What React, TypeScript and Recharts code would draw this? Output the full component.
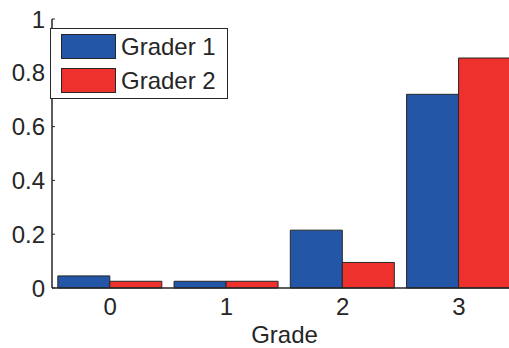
import React from 'react';
import { BarChart, Bar, XAxis, YAxis } from 'recharts';

const grades = ['0', '1', '2', '3'];
const grader1 = [0.045, 0.025, 0.215, 0.72];
const grader2 = [0.025, 0.025, 0.095, 0.855];
const yTicks = [0, 0.2, 0.4, 0.6, 0.8, 1];

const BLUE = '#2356a7';
const RED = '#ee312d';
const INK = '#262626';
const FONT = '"Liberation Sans", Arial, Helvetica, sans-serif';
const FS = 24;

const data = grades.map((g, i) => ({ grade: g, g1: grader1[i], g2: grader2[i] }));

const series = [
  { key: 'g1', name: 'Grader 1', color: BLUE },
  { key: 'g2', name: 'Grader 2', color: RED },
];

// boxed legend in the top-left corner of the axes
const LegendBox = () => (
  <div
    style={{
      position: 'absolute',
      left: 50,
      top: 28,
      width: 176,
      height: 69,
      border: `1.5px solid ${INK}`,
      background: '#fff',
      fontFamily: FONT,
      fontSize: FS,
      color: INK,
    }}
  >
    {series.map((s, i) => (
      <div
        key={s.key}
        style={{ position: 'absolute', left: 10, top: 5 + i * 34, display: 'flex', alignItems: 'center' }}
      >
        <div style={{ width: 53, height: 23, background: s.color, border: `1px solid ${INK}` }} />
        <span style={{ marginLeft: 5, lineHeight: '24px', whiteSpace: 'nowrap' }}>{s.name}</span>
      </div>
    ))}
  </div>
);

export default function App() {
  return (
    <div
      style={{
        position: 'fixed',
        left: 0,
        top: 0,
        width: 509,
        height: 348,
        overflow: 'hidden',
        background: '#fff',
      }}
    >
      <BarChart
        width={540}
        height={348}
        data={data}
        margin={{ top: 19, right: 23, left: 6, bottom: 0 }}
        barCategoryGap="5%"
        barGap={0}
      >
        <XAxis
          dataKey="grade"
          height={60}
          tickLine={false}
          tickSize={0}
          tickMargin={10}
          axisLine={{ stroke: INK, strokeWidth: 1.5 }}
          tick={{ fill: INK, fontSize: FS, fontFamily: FONT }}
          label={{ value: 'Grade', position: 'insideBottom', offset: 5, fill: INK, fontSize: FS, fontFamily: FONT }}
        />
        <XAxis
          xAxisId="top"
          dataKey="grade"
          orientation="top"
          height={0}
          mirror
          tickSize={4}
          tickFormatter={() => ''}
          stroke={INK}
          axisLine={{ stroke: INK, strokeWidth: 1.5 }}
        />
        <YAxis
          width={46}
          domain={[0, 1]}
          ticks={yTicks}
          tickSize={-3}
          tickMargin={10}
          stroke={INK}
          axisLine={{ stroke: INK, strokeWidth: 1.5 }}
          tick={{ fill: INK, fontSize: FS, fontFamily: FONT }}
        />
        {series.map((s) => (
          <Bar
            key={s.key}
            dataKey={s.key}
            name={s.name}
            fill={s.color}
            stroke={INK}
            strokeWidth={1}
            isAnimationActive={false}
          />
        ))}
      </BarChart>
      <LegendBox />
    </div>
  );
}
